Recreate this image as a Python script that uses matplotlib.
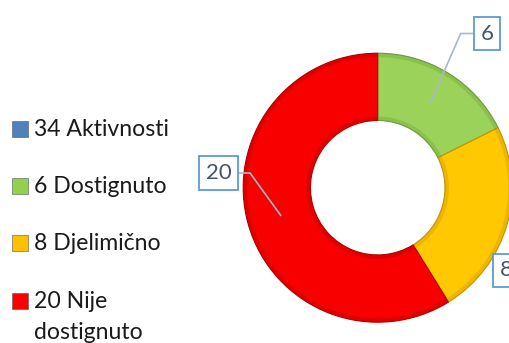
import numpy as np
import matplotlib.pyplot as plt
from matplotlib.patches import Wedge

plt.rcParams['font.family'] = ['Lato', 'DejaVu Sans']

# data
categories = ['Aktivnosti', 'Dostignuto', 'Djelimično', 'Nije\ndostignuto']
counts = [34, 6, 8, 20]
legend_colors = ['#4F81BD', '#92D050', '#FFC000', '#FF0000']
slice_values = counts[1:]
slice_colors = ['#9BD35A', '#FFC800', '#F80000']
edge_colors = ['#6E9A3A', '#C89200', '#B00000']

W, H = 510, 343
fig = plt.figure(figsize=(W / 100, H / 100), dpi=100)
ax = fig.add_axes([0, 0, 1, 1])

cx, cy, R = 377.7, H - 187.7, 134.5
ring = 0.5

wedges, _ = ax.pie(slice_values, colors=slice_colors, startangle=90, counterclock=False,
                   center=(cx, cy), radius=R,
                   wedgeprops=dict(width=R * ring, edgecolor='none'))

# soft bevel: darker rims on outer and inner edges of each slice
for w, ec in zip(wedges, edge_colors):
    t1, t2 = w.theta1, w.theta2
    ax.add_patch(Wedge((cx, cy), R, t1, t2, width=4, color=ec, alpha=0.35, lw=0))
    ax.add_patch(Wedge((cx, cy), R * (1 - ring) + 4, t1, t2, width=4, color=ec, alpha=0.35, lw=0))
    w.set_edgecolor(ec)
    w.set_linewidth(0.8)

ax.set_xlim(0, W)
ax.set_ylim(0, H)
ax.set_aspect('auto')
ax.axis('off')

# data labels with leader lines
label_box = dict(boxstyle='square,pad=0.3', fc='white', ec='#5B9BD5', lw=1.3)
label_pos = [(486.9, H - 33.5), (506, H - 270.5), (218.5, H - 173)]
elbows = [(460.7, H - 33.5), None, (250, H - 173)]
total = sum(slice_values)
start = 0
for val, (tx, ty), elb in zip(slice_values, label_pos, elbows):
    mid = start + val / 2
    start += val
    ang = np.deg2rad(90 - mid / total * 360)
    rm = R * (1 - ring / 2)
    px, py = cx + rm * np.cos(ang), cy + rm * np.sin(ang)
    if elb is not None:
        ax.plot([px, elb[0], tx], [py, elb[1], ty], color='#A9B8CB', lw=1.2, zorder=3)
    ax.text(tx, ty, str(val), ha='center', va='center', fontsize=16,
            color='#44546A', bbox=label_box, zorder=4)

# legend
legend_base = [136, 193, 250, 308]
for name, n, col, by in zip(categories, counts, legend_colors, legend_base):
    ax.scatter([20.5], [H - by + 7.5], marker='s', s=120, color=col,
               edgecolors='#555555', linewidths=0.4, zorder=4)
    lines = f'{n} {name}'.split('\n')
    for i, line in enumerate(lines):
        ax.text(34, H - by - 31 * i, line, ha='left', va='baseline', fontsize=16.6,
                color='#1A1A1A')

fig.savefig('out.png', dpi=100)
